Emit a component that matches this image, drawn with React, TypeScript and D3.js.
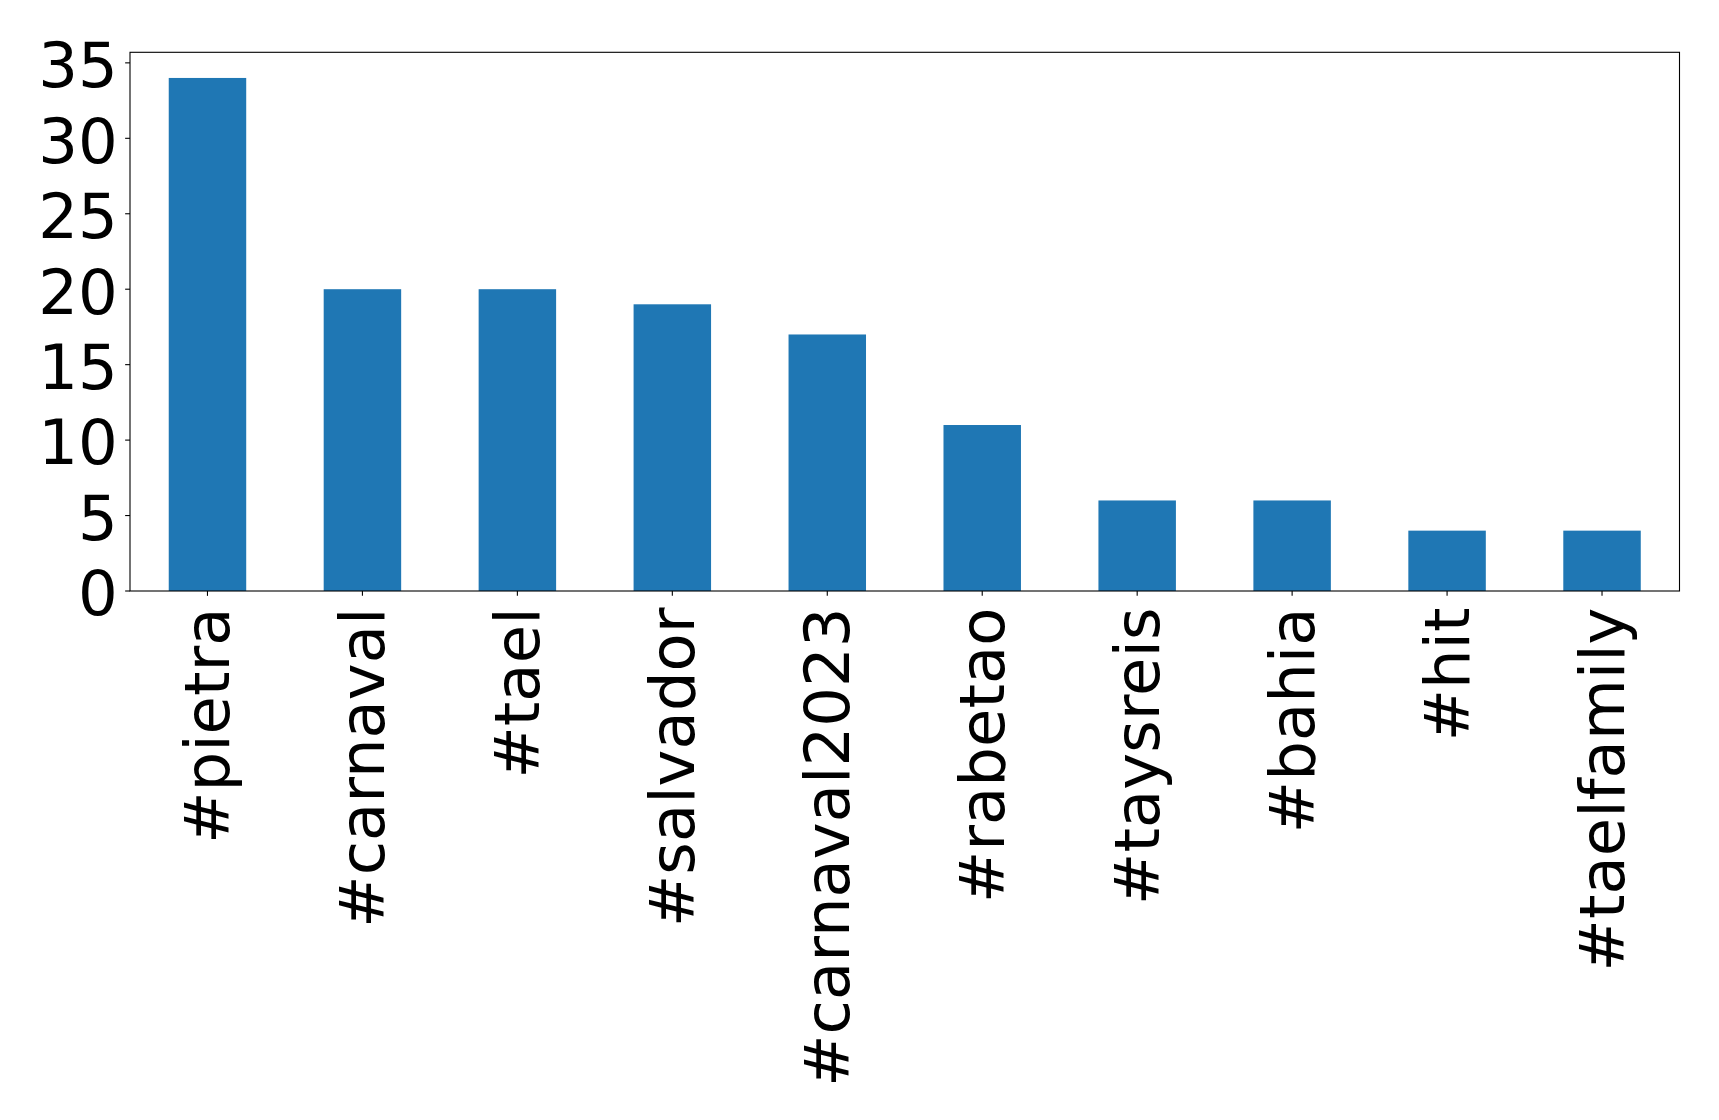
import React from "react";
import * as d3 from "d3";

const categories = ["#pietra", "#carnaval", "#tael", "#salvador", "#carnaval2023", "#rabetao", "#taysreis", "#bahia", "#hit", "#taelfamily"];
const values = [34, 20, 20, 19, 17, 11, 6, 6, 4, 4];
const yTicks = [0, 5, 10, 15, 20, 25, 30, 35];

const W = 1719;
const H = 1120;
const left = 130;
const right = 1679.5;
const top = 52.3;
const bottom = 591;
const fs = 62.5;
const font = "DejaVu Sans";

export default function App() {
  const n = categories.length;
  const x = d3.scaleLinear().domain([-0.5, n - 0.5]).range([left, right]);
  const y = d3.scaleLinear().domain([0, 34 * 1.05]).range([bottom, top]);
  const bw = x(0.25) - x(-0.25);
  const tickLen = 4.86;
  return (
    <svg width={W} height={H} style={{ position: "absolute", left: 0, top: 0, background: "#fff" }}>
      <rect x={0} y={0} width={W} height={H} fill="#fff" />
      {values.map((v, i) => (
        <rect key={i} x={x(i) - bw / 2} y={y(v)} width={bw} height={y(0) - y(v)} fill="#1f77b4" />
      ))}
      <rect x={left} y={top} width={right - left} height={bottom - top} fill="none" stroke="#000" strokeWidth={1.1} />
      {yTicks.map((t) => (
        <g key={t}>
          <line x1={left - tickLen} x2={left} y1={y(t)} y2={y(t)} stroke="#000" strokeWidth={1.1} />
          <text x={left - 12.2} y={y(t)} dy="0.39em" textAnchor="end" fontFamily={font} fontSize={fs} fill="#000">
            {t}
          </text>
        </g>
      ))}
      {categories.map((c, i) => (
        <g key={c}>
          <line x1={x(i)} x2={x(i)} y1={bottom} y2={bottom + tickLen} stroke="#000" strokeWidth={1.1} />
          <text
            transform={`translate(${x(i)},${bottom + 16.5}) rotate(-90)`}
            dy="0.35em"
            textAnchor="end"
            fontFamily={font}
            fontSize={fs}
            fill="#000"
          >
            {c}
          </text>
        </g>
      ))}
    </svg>
  );
}
